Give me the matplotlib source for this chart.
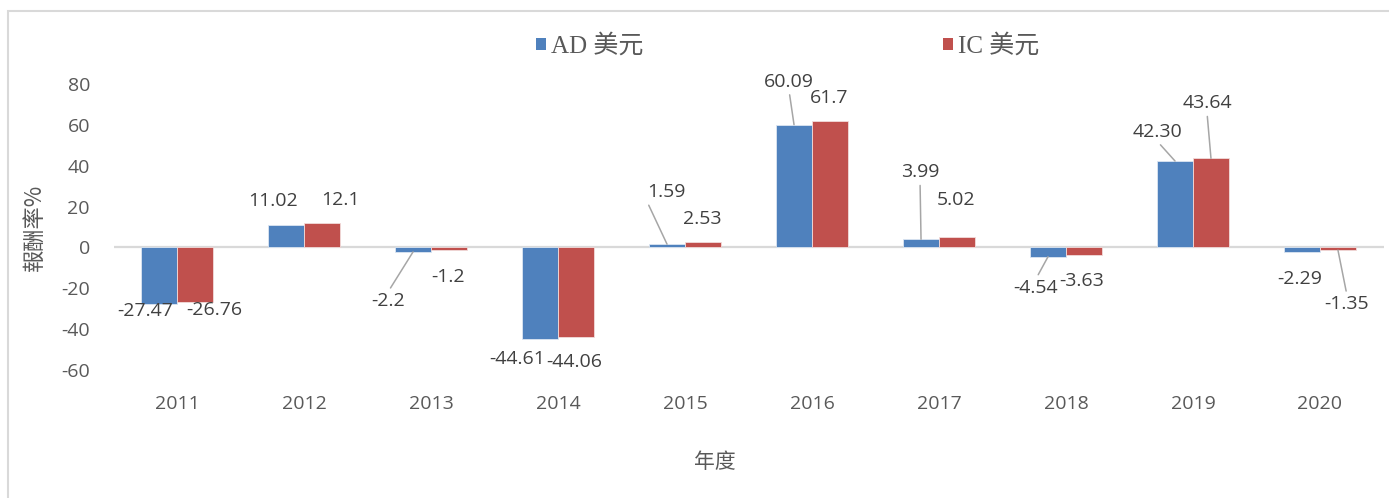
import matplotlib
matplotlib.use("Agg")
import matplotlib.pyplot as plt
from matplotlib.patches import Patch, Rectangle
import numpy as np

plt.rcParams['axes.unicode_minus'] = False

years = ['2011', '2012', '2013', '2014', '2015', '2016', '2017', '2018', '2019', '2020']
ad_usd = [-27.47, 11.02, -2.2, -44.61, 1.59, 60.09, 3.99, -4.54, 42.30, -2.29]
ic_usd = [-26.76, 12.1, -1.2, -44.06, 2.53, 61.7, 5.02, -3.63, 43.64, -1.35]
ad_text = ['-27.47', '11.02', '-2.2', '-44.61', '1.59', '60.09', '3.99', '-4.54', '42.30', '-2.29']
ic_text = ['-26.76', '12.1', '-1.2', '-44.06', '2.53', '61.7', '5.02', '-3.63', '43.64', '-1.35']

# label placement (pixel offsets from bar end) and leader line anchor
ad_off = [(-14, -7), (-13, 24), (-25, -49), (-23, -20), (-1, 52),
          (-5, 43), (-1, 67), (-12, -31), (-18, 29), (-2, -27)]
ic_off = [(19, -8), (18, 23), (-1, -27), (-2, -25), (-1, 23),
          (-1, 23), (-1, 37), (-2, -26), (-4, 55), (9, -54)]
ad_lead = [None, None, (0.5, 1), None, (0, 0), (0.5, 0), (0.5, 0), (0.5, 1), (0.5, 0), None]
ic_lead = [None, None, None, None, None, None, None, None, (0.5, 0), (0.5, 1)]

BLUE = '#4F81BD'
RED = '#C0504D'
GRID = '#D9D9D9'
TICK = '#595959'
LABEL = '#404040'
CJK = ['Noto Sans CJK TC', 'DejaVu Sans']
SERIF_CJK = ['Liberation Serif', 'Noto Sans CJK TC']
NUM = 'Open Sans'

fig = plt.figure(figsize=(13.89, 4.98), dpi=100)
W, H = 1389, 498
ax = fig.add_axes([113.5 / W, 1 - 370 / H, 1270 / W, 286 / H])

x = np.arange(len(years))
w = 0.283
ax.bar(x - w / 2, ad_usd, w, color=BLUE, edgecolor='#DCE6F2', linewidth=0.6, zorder=3)
ax.bar(x + w / 2, ic_usd, w, color=RED, edgecolor='#F2DCDB', linewidth=0.6, zorder=3)

ax.axhline(0, color=GRID, lw=1.6, zorder=2)
ax.set_xlim(-0.5, len(years) - 0.5)
ax.set_ylim(-60, 80)
ax.set_yticks(range(-60, 81, 20))
ax.set_xticks(x)
ax.set_xticklabels(years)
for s in ax.spines.values():
    s.set_visible(False)
ax.tick_params(axis='y', length=0, pad=17, labelsize=14, labelcolor=TICK)
ax.tick_params(axis='x', length=0, pad=17.7, labelsize=14, labelcolor=TICK)
for lab in ax.get_xticklabels() + ax.get_yticklabels():
    lab.set_family(NUM)


def put_labels(xs, vals, texts, offs, leads):
    for xi, v, t, off, lead in zip(xs, vals, texts, offs, leads):
        kw = {}
        if lead is not None:
            kw['arrowprops'] = dict(arrowstyle='-', color='#A6A6A6', lw=1.1,
                                    relpos=lead, shrinkA=1, shrinkB=0)
        ax.annotate(t, xy=(xi, v), xytext=off, textcoords='offset pixels',
                    ha='center', va='center', fontsize=14, color=LABEL,
                    family=NUM, zorder=5, **kw)


put_labels(x - w / 2, ad_usd, ad_text, ad_off, ad_lead)
put_labels(x + w / 2, ic_usd, ic_text, ic_off, ic_lead)

fig.text(34 / W, 1 - 227 / H, '報酬率%', family=CJK, fontsize=16, color=TICK,
         rotation=90, ha='center', va='center')
fig.text(715 / W, 1 - 462 / H, '年度', family=CJK, fontsize=15, color=TICK,
         ha='center', va='center')

handles = [Patch(facecolor=BLUE, edgecolor='none'), Patch(facecolor=RED, edgecolor='none')]
fig.legend(handles, ['AD 美元', 'IC 美元'], ncol=2, frameon=False,
           loc='center left', bbox_to_anchor=(536 / W, 1 - 46 / H),
           prop={'family': SERIF_CJK, 'size': 18},
           handlelength=0.4, handleheight=0.4, handletextpad=0.2,
           columnspacing=12.0, borderpad=0, borderaxespad=0, labelcolor=TICK)

fig.patches.append(Rectangle((8 / W, -0.1), 1.2, 1 - 11 / H + 0.1,
                             transform=fig.transFigure, fill=False,
                             edgecolor=GRID, lw=1.5))

fig.savefig('out.png', dpi=100)
